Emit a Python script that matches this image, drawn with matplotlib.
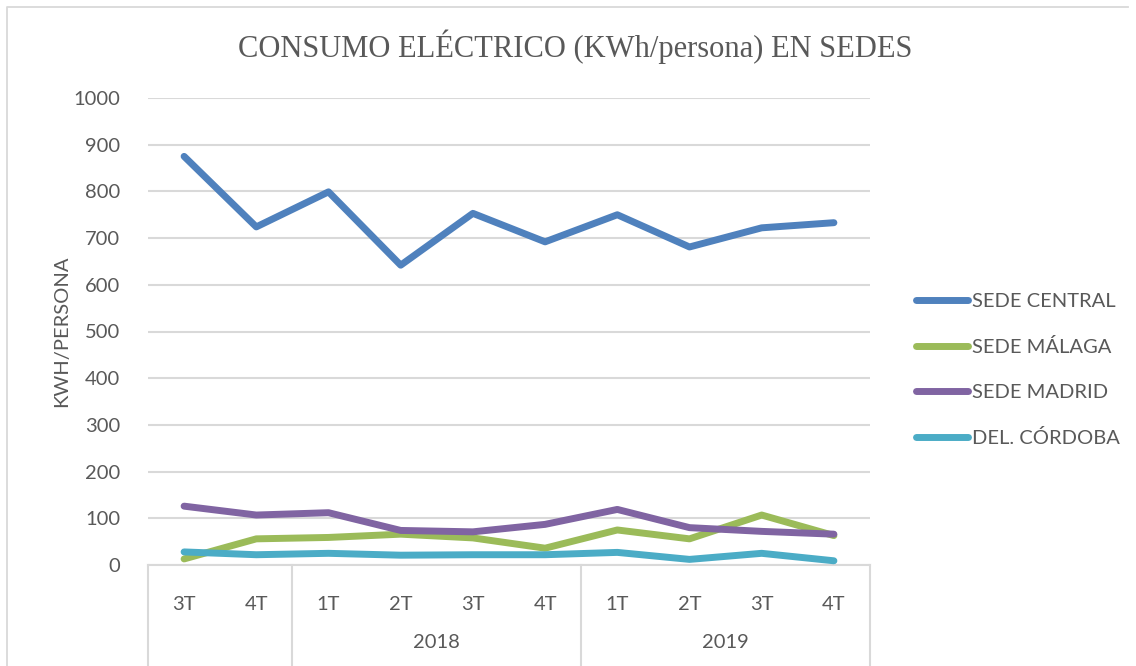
"""Consumo eléctrico (KWh/persona) por sede, trimestral 2017-2019."""
import matplotlib
matplotlib.use("Agg")
import matplotlib.pyplot as plt
from matplotlib.lines import Line2D
import matplotlib.transforms as mtransforms

plt.rcParams["font.family"] = ["Lato", "DejaVu Sans"]

quarters = ["3T", "4T", "1T", "2T", "3T", "4T", "1T", "2T", "3T", "4T"]
years = ["", "2018", "2019"]
year_spans = [(0, 1), (2, 5), (6, 9)]

sede_central = [875, 724, 799, 642, 753, 692, 750, 681, 722, 733]
sede_malaga = [13, 56, 59, 66, 58, 36, 75, 56, 107, 63]
sede_madrid = [126, 107, 112, 74, 71, 87, 119, 80, 72, 66]
del_cordoba = [28, 22, 25, 21, 22, 22, 27, 12, 25, 9]

series = [
    ("SEDE CENTRAL", sede_central, "#4F81BD"),
    ("SEDE MÁLAGA", sede_malaga, "#9BBB59"),
    ("SEDE MADRID", sede_madrid, "#8064A2"),
    ("DEL. CÓRDOBA", del_cordoba, "#4BACC6"),
]

TXT = "#595959"
GRID = "#D9D9D9"
FS = 14.5

fig = plt.figure(figsize=(11.36, 6.66), dpi=100)
ax = fig.add_axes([148 / 1136, 1 - 565 / 666, (870 - 148) / 1136, (565 - 98) / 666])

x = list(range(len(quarters)))
for name, vals, color in series:
    ax.plot(x, vals, color=color, lw=5, label=name,
            solid_capstyle="round", solid_joinstyle="round", zorder=3)

ax.set_xlim(-0.5, len(quarters) - 0.5)
ax.set_ylim(0, 1000)
ax.set_yticks(range(0, 1001, 100))
ax.grid(axis="y", color=GRID, lw=1.5)
ax.set_axisbelow(True)
for s in ["top", "right", "left"]:
    ax.spines[s].set_visible(False)
ax.spines["bottom"].set_color(GRID)
ax.spines["bottom"].set_linewidth(1.5)
ax.tick_params(axis="y", length=0, pad=20, labelsize=FS, labelcolor=TXT)
ax.set_xticks(x)
ax.set_xticklabels(quarters)
ax.tick_params(axis="x", length=0, pad=22, labelsize=FS, labelcolor=TXT)
ax.set_ylabel("KWH/PERSONA", fontsize=FS, color=TXT, labelpad=2)

# multi-level category axis: group separators and year labels
bottom = (565 - 670) / 467
trans = mtransforms.blended_transform_factory(ax.transData, ax.transAxes)
for i, (a, b) in enumerate(year_spans):
    ax.add_line(Line2D([a - 0.5, a - 0.5], [0, bottom], transform=trans,
                       color=GRID, lw=1.5, clip_on=False))
    ax.text((a + b) / 2, (565 - 643) / 467, years[i], transform=trans,
            ha="center", va="center", fontsize=FS, color=TXT)
ax.add_line(Line2D([9.5, 9.5], [0, bottom], transform=trans,
                   color=GRID, lw=1.5, clip_on=False))

fig.text(575 / 1136, 1 - 47 / 666, "CONSUMO ELÉCTRICO (KWh/persona) EN SEDES",
         ha="center", va="center", fontsize=22, color=TXT,
         family=["Liberation Serif", "DejaVu Serif"])

fig.legend(loc="center left", bbox_to_anchor=(898 / 1136, 1 - 370 / 666),
           frameon=False, fontsize=FS, handlelength=2.6,
           handletextpad=0.15, labelspacing=1.4, labelcolor=TXT)

# chart-area border (top and left edges visible in the crop)
fig.add_artist(Line2D([7 / 1136, 7 / 1136, 1128 / 1136],
                      [0, 1 - 7 / 666, 1 - 7 / 666],
                      transform=fig.transFigure, color=GRID, lw=1.3))

fig.savefig("out.png", dpi=100, facecolor="white")
